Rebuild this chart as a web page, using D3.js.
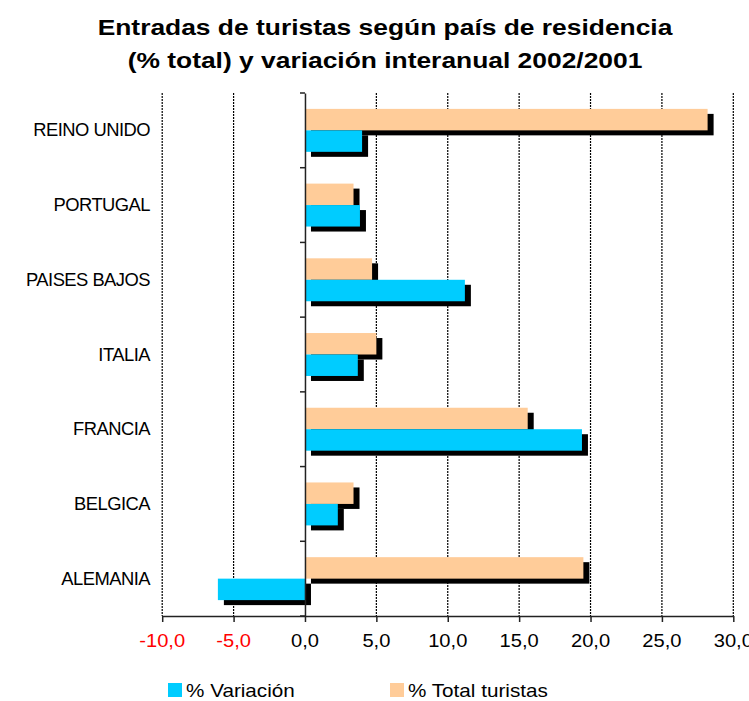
<!DOCTYPE html>
<html>
<head>
<meta charset="utf-8">
<script src="https://cdn.jsdelivr.net/npm/d3@7"></script>
<style>
  body { margin: 0; background: #fff; }
  text { font-family: "Liberation Sans", Arial, sans-serif; }
</style>
</head>
<body>
<script>
// categories from top to bottom
const paises = ["REINO UNIDO", "PORTUGAL", "PAISES BAJOS", "ITALIA", "FRANCIA", "BELGICA", "ALEMANIA"];
const totalTuristas = [28.2, 3.4, 4.7, 5.0, 15.6, 3.4, 19.5];
const variacion = [4.0, 3.85, 11.2, 3.7, 19.4, 2.3, -6.1];
const ticks = [-10, -5, 0, 5, 10, 15, 20, 25, 30];
const series = ["% Total turistas", "% Variación"];
const colores = ["#ffcc99", "#00ccff"];

const W = 749, H = 701;
const svg = d3.select("body").append("svg")
  .attr("width", W)
  .attr("height", H);

// scales
const x = d3.scaleLinear().domain([-10, 30]).range([162.2, 733.3]);
const y = d3.scaleBand().domain(paises).range([93, 616]);
const ySub = d3.scaleBand().domain(series).range([0, y.bandwidth()])
  .paddingInner(0).paddingOuter(0.74);

// title (source chart is stretched horizontally)
const title = svg.append("text")
  .attr("transform", "translate(385,0) scale(1.2,1)")
  .attr("text-anchor", "middle")
  .attr("font-size", 22)
  .attr("font-weight", "bold")
  .attr("fill", "#000");
title.append("tspan").attr("x", 0).attr("y", 35).text("Entradas de turistas según país de residencia");
title.append("tspan").attr("x", 0).attr("y", 68).text("(% total) y variación interanual 2002/2001");

// gridlines
svg.append("g")
  .selectAll("line")
  .data(ticks.filter(d => d !== 0))
  .join("line")
  .attr("x1", d => x(d)).attr("x2", d => x(d))
  .attr("y1", 93).attr("y2", 616)
  .attr("stroke", "#000")
  .attr("stroke-width", 1.2)
  .attr("stroke-dasharray", "2,1");

// rows data
const rows = paises.map((p, i) => ({
  pais: p,
  valores: [
    { serie: series[0], v: totalTuristas[i], color: colores[0] },
    { serie: series[1], v: variacion[i], color: colores[1] }
  ]
}));

const dx = 6, dy = 5;

// shadows first
const sh = svg.append("g");
rows.forEach(r => {
  sh.selectAll(null)
    .data(r.valores)
    .join("rect")
    .attr("x", d => Math.min(x(0), x(d.v)) + dx)
    .attr("y", d => y(r.pais) + ySub(d.serie) + dy)
    .attr("width", d => Math.abs(x(d.v) - x(0)))
    .attr("height", ySub.bandwidth())
    .attr("fill", "#000");
});

// bars
const bars = svg.append("g");
rows.forEach(r => {
  bars.selectAll(null)
    .data(r.valores)
    .join("rect")
    .attr("x", d => Math.min(x(0), x(d.v)))
    .attr("y", d => y(r.pais) + ySub(d.serie))
    .attr("width", d => Math.abs(x(d.v) - x(0)))
    .attr("height", ySub.bandwidth())
    .attr("fill", d => d.color);
});

// category axis at zero
const yAxis = svg.append("g").attr("transform", `translate(${x(0)},0)`)
  .call(d3.axisLeft(y).tickSize(0).tickFormat(""));
yAxis.select(".domain").attr("stroke", "#222").attr("stroke-width", 1.5);
const bounds = paises.map(p => y(p)).concat([y.range()[1]]);
yAxis.selectAll(".sep").data(bounds).join("line")
  .attr("class", "sep")
  .attr("x1", -5).attr("x2", 0)
  .attr("y1", d => d).attr("y2", d => d)
  .attr("stroke", "#222").attr("stroke-width", 1.5);

// value axis
const xAxis = svg.append("g").attr("transform", "translate(0,616)")
  .call(d3.axisBottom(x).tickValues(ticks).tickSize(6).tickSizeOuter(0).tickFormat(""));
xAxis.select(".domain").attr("stroke", "#222").attr("stroke-width", 1.5);
xAxis.selectAll(".tick line").attr("stroke", "#222").attr("stroke-width", 1.5);

// tick labels
const fmt = d => d3.format(".1f")(d).replace(".", ",").replace("−", "-");
svg.append("g").selectAll("text")
  .data(ticks)
  .join("text")
  .attr("transform", d => `translate(${x(d)},647) scale(1.15,1)`)
  .attr("text-anchor", "middle")
  .attr("font-size", 17.5)
  .attr("fill", d => d < 0 ? "#ff0000" : "#000")
  .text(fmt);

// category labels
svg.append("g").selectAll("text")
  .data(paises)
  .join("text")
  .attr("transform", d => `translate(150,${y(d) + y.bandwidth() / 2 + 6}) scale(1.05,1)`)
  .attr("text-anchor", "end")
  .attr("font-size", 17.5)
  .attr("letter-spacing", -0.5)
  .attr("fill", "#000")
  .text(d => d);

// legend
const leg = [
  { label: series[1], color: colores[1], x: 168 },
  { label: series[0], color: colores[0], x: 390 }
];
const lg = svg.append("g").selectAll("g").data(leg).join("g")
  .attr("transform", d => `translate(${d.x},683)`);
lg.append("rect").attr("width", 14).attr("height", 14).attr("fill", d => d.color);
lg.append("text")
  .attr("transform", "translate(18,14) scale(1.15,1)")
  .attr("font-size", 18)
  .attr("fill", "#000")
  .text(d => d.label);
</script>
</body>
</html>
